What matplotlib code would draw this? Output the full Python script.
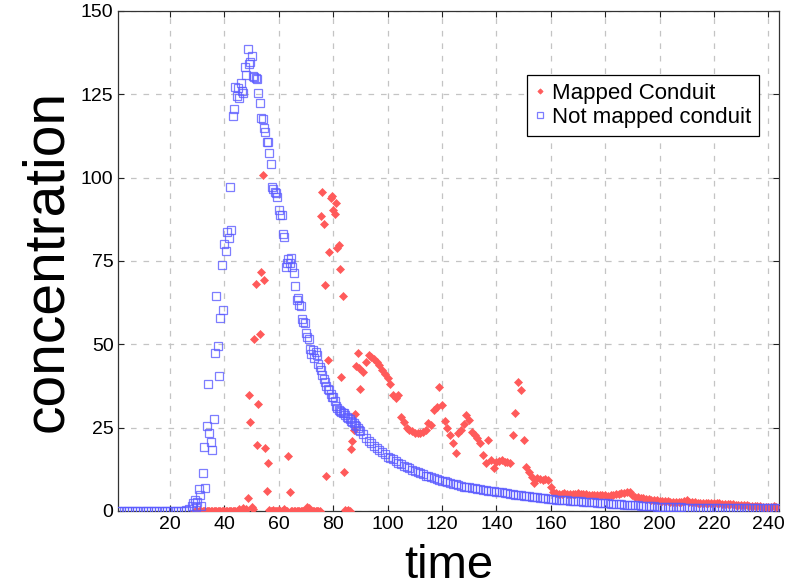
import numpy as np
import matplotlib
matplotlib.use("Agg")
import matplotlib.pyplot as plt

plt.rcParams["font.family"] = ["Liberation Sans", "DejaVu Sans"]

# time grids: 1 step outside the pulse, half steps through it
blue_time = np.concatenate([np.arange(1, 28), np.arange(28, 90, 0.5), np.arange(90, 244)])
red_time = np.concatenate([np.arange(29, 90, 0.5), np.arange(90, 244)])

# not mapped conduit
blue_early = [0.0, 0.0, 0.0, 0.0, 0.0, 0.0, 0.0, 0.0, 0.0,
              0.0, 0.0, 0.0, 0.0, 0.0, 0.0, 0.0, 0.0, 0.0,
              0.0, 0.0, 0.0, 0.0, 0.0, 0.0, 0.0, 0.2, 0.5]
blue_mid = [1.5, 2.5, 3.3, 1.2, 2.8, 6.6, 4.7, 1.5, 11.5, 19.1,
            6.8, 25.6, 38.0, 23.3, 20.7, 18.4, 27.6, 47.3, 64.5, 49.4,
            40.6, 57.8, 73.9, 60.2, 80.0, 78.0, 83.7, 82.0, 97.2, 84.2,
            118.5, 120.5, 127.3, 124.5, 126.8, 124.0, 128.5, 126.0, 125.5, 133.1,
            130.8, 138.6, 134.0, 134.7, 136.6, 130.6, 130.2, 130.0, 129.5, 125.5,
            122.3, 118.0, 117.5, 115.0, 113.8, 110.8, 110.6, 107.5, 104.0, 97.3,
            96.5, 95.6, 95.5, 94.3, 90.3, 88.8, 88.7, 83.2, 82.1, 73.3,
            74.3, 75.7, 74.5, 75.8, 73.1, 71.4, 67.5, 63.3, 63.8, 61.8,
            61.6, 57.6, 56.8, 56.5, 53.5, 52.3, 51.6, 48.5, 47.0, 48.3,
            45.8, 47.8, 46.8, 44.1, 43.3, 42.3, 40.8, 39.5, 38.8, 37.5,
            36.7, 36.3, 35.1, 34.3, 34.1, 33.0, 31.5, 30.8, 30.3, 30.0,
            29.8, 29.5, 29.3, 28.8, 28.3, 27.8, 27.5, 27.0, 26.8, 26.3,
            25.8, 25.5, 24.8, 24.3]
blue_late = [24.0, 23.0, 21.8, 21.0, 20.3, 19.6, 19.0, 18.2, 17.8, 17.0,
             16.2, 15.8, 15.5, 15.0, 14.5, 14.2, 13.6, 13.2, 12.8, 12.3,
             12.0, 11.6, 11.3, 11.0, 10.6, 10.4, 10.2, 9.9, 9.6, 9.3,
             9.1, 8.9, 8.7, 8.4, 8.2, 8.0, 7.8, 7.5, 7.3, 7.2,
             7.1, 6.9, 6.8, 6.6, 6.5, 6.4, 6.3, 6.1, 6.0, 5.9,
             5.8, 5.7, 5.6, 5.4, 5.3, 5.2, 5.0, 4.9, 4.8, 4.7,
             4.6, 4.5, 4.4, 4.3, 4.2, 4.1, 4.0, 3.9, 3.8, 3.7,
             3.6, 3.5, 3.4, 3.4, 3.3, 3.2, 3.2, 3.1, 3.0, 3.0,
             2.9, 2.9, 2.8, 2.8, 2.7, 2.6, 2.6, 2.5, 2.5, 2.4,
             2.3, 2.3, 2.2, 2.2, 2.1, 2.0, 2.0, 1.9, 1.9, 1.8,
             1.8, 1.7, 1.7, 1.6, 1.6, 1.5, 1.5, 1.4, 1.4, 1.3,
             1.3, 1.3, 1.2, 1.2, 1.2, 1.1, 1.1, 1.1, 1.1, 1.0,
             1.0, 1.0, 1.0, 1.0, 1.0, 0.9, 0.9, 0.9, 0.9, 0.9,
             0.9, 0.9, 0.9, 0.9, 0.8, 0.8, 0.8, 0.8, 0.8, 0.8,
             0.8, 0.8, 0.8, 0.8, 0.8, 0.8, 0.8, 0.8, 0.8, 0.8,
             0.8, 0.8, 0.8, 0.8]

# mapped conduit
red_mid = [0.0, 0.0, 0.0, 0.0, 0.0, 0.0, 0.0, 0.0, 0.0, 0.0,
           0.0, 0.0, 0.0, 0.0, 0.0, 0.0, 0.0, 0.0, 0.0, 0.0,
           0.0, 0.0, 0.0, 0.0, 0.0, 0.0, 0.0, 0.0, 0.0, 0.0,
           0.0, 0.0, 0.0, 0.5, 0.0, 0.0, 1.0, 0.0,
           0.5, 3.8, 34.7, 26.6, 1.2, 0.5, 51.7, 68.2, 19.8, 32.0,
           53.2, 71.6, 100.9, 69.2, 19.0, 5.9, 14.5, 0.3,
           0.0, 0.0, 0.2, 0.0, 0.0, 0.0, 0.3, 0.0, 0.0, 0.0, 0.5, 0.0, 0.0,
           16.6, 5.6,
           0.0, 0.0, 0.0, 0.0, 0.0, 0.0, 0.0, 0.0, 0.0, 0.0, 0.0,
           0.0, 1.3, 0.8, 0.0, 0.0, 0.0, 0.0, 0.0, 0.0, 0.0, 0.0,
           88.6, 95.6, 86.0, 67.9, 10.4, 45.3, 77.8, 93.8, 94.4, 90.2,
           89.1, 92.5, 79.0, 79.9, 72.5, 40.1, 64.5, 11.8, 0.3, 0.0,
           0.3, 0.0, 18.6, 21.0, 24.3, 29.0, 43.5, 47.5, 42.8]
red_late = [36.5, 41.8, 44.8, 46.8, 46.1, 45.5, 44.8, 43.8, 42.3, 41.1,
            39.8, 38.0, 34.8, 33.8, 34.8, 28.3, 26.8, 24.8, 24.3, 24.1,
            23.5, 23.3, 23.3, 23.8, 24.3, 26.5, 25.8, 30.3, 31.3, 37.3,
            31.8, 27.0, 24.8, 22.8, 20.5, 17.3, 23.3, 24.3, 26.0, 28.8,
            27.3, 23.8, 22.8, 21.8, 20.3, 16.8, 14.3, 21.3, 15.3, 12.8,
            14.8, 15.0, 15.3, 14.6, 14.8, 14.3, 22.8, 29.5, 38.8, 36.3,
            21.3, 13.3, 11.8, 10.3, 8.5, 9.8, 9.5, 9.3, 9.5, 9.3,
            7.3, 5.8, 5.3, 5.2, 5.0, 5.3, 5.1, 5.1, 5.0, 5.2,
            5.3, 5.1, 5.0, 5.1, 4.9, 4.9, 4.8, 4.9, 4.8, 4.7,
            4.8, 4.6, 4.7, 4.8, 5.0, 5.1, 5.3, 5.5, 5.8, 5.8,
            4.8, 4.3, 4.1, 3.9, 3.8, 3.6, 3.5, 3.4, 3.3, 3.2,
            3.1, 3.0, 2.9, 2.9, 2.8, 2.8, 2.7, 2.7, 2.8, 2.9,
            3.2, 2.8, 2.6, 2.6, 2.5, 2.5, 2.5, 2.4, 2.4, 2.4,
            2.3, 2.3, 2.3, 2.2, 2.2, 2.1, 2.0, 2.0, 1.9, 1.8,
            1.8, 1.7, 1.7, 1.6, 1.5, 1.5, 1.4, 1.4, 1.3, 1.3,
            1.3, 1.2, 1.5, 1.3]

blue_vals = np.array(blue_early + blue_mid + blue_late)
red_vals = np.array(red_mid + red_late)

x_ticks = [20, 40, 60, 80, 100, 120, 140, 160, 180, 200, 220, 240]
y_ticks = [0, 25, 50, 75, 100, 125, 150]

RED = "#FF5A5A"
BLUE = "#5C5CFF"

fig = plt.figure(figsize=(8, 5.87), dpi=100)
ax = fig.add_axes([0.148, 0.1295, 0.826, 0.852])

ax.plot(red_time, red_vals, linestyle="none", marker="D", markersize=3.6,
        color=RED, markeredgewidth=0.5, label="Mapped Conduit", zorder=3)
ax.plot(blue_time, blue_vals, linestyle="none", marker="s", markersize=5.8,
        markerfacecolor="none", markeredgecolor=BLUE, markeredgewidth=0.9,
        alpha=0.8, label="Not mapped conduit", zorder=4)

ax.set_xlim(1, 244)
ax.set_ylim(0, 150)
ax.set_xticks(x_ticks)
ax.set_yticks(y_ticks)
ax.tick_params(direction="in", length=4, labelsize=14, top=True, right=True,
               colors="#222222", labelcolor="black")
ax.grid(True, color="#c4c4c4", linestyle=(0, (4.5, 5.5)), linewidth=0.9)
ax.set_axisbelow(True)
for spine in ax.spines.values():
    spine.set_color("#333333")
    spine.set_linewidth(0.9)

ax.set_xlabel("time", fontsize=34, labelpad=8)
ax.set_ylabel("concentration", fontsize=41, labelpad=5)

leg = ax.legend(loc="upper right", bbox_to_anchor=(0.969, 0.872), fontsize=16,
                numpoints=1, handlelength=0.45, handletextpad=0.3,
                borderpad=0.35, labelspacing=0.15, borderaxespad=0,
                fancybox=False, framealpha=1, edgecolor="black",
                markerscale=0.75)
leg.get_frame().set_linewidth(0.9)

fig.savefig("out.png", dpi=100)
